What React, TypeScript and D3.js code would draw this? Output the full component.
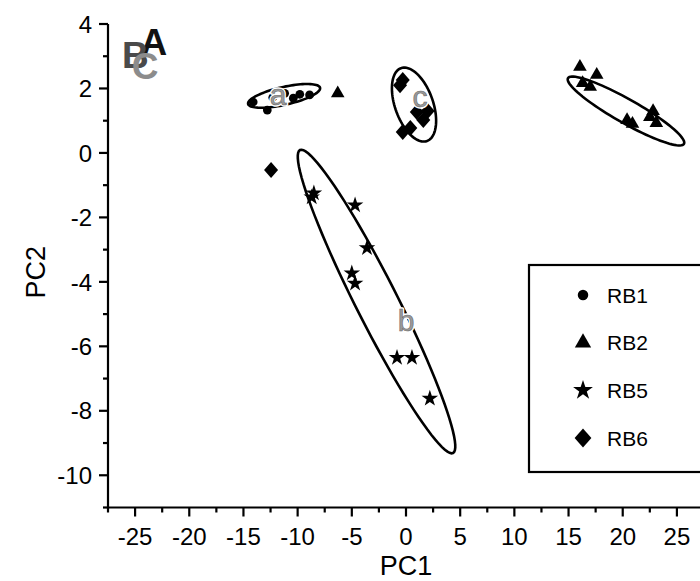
import React from "react";
import * as d3 from "d3";

const W = 700;
const H = 581;

// axis domains and ticks
const xDomain = [-27.5, 27.5];
const yDomain = [-11, 4];
const xTicks = [-25, -20, -15, -10, -5, 0, 5, 10, 15, 20, 25];
const xMinorTicks = [-27.5, -22.5, -17.5, -12.5, -7.5, -2.5, 2.5, 7.5, 12.5, 17.5, 22.5, 27.5];
const yTicks = [-10, -8, -6, -4, -2, 0, 2, 4];
const yMinorTicks = [-11, -9, -7, -5, -3, -1, 1, 3];

// series (PC1, PC2)
const rb1: [number, number][] = [
  [-14.1, 1.58], [-12.8, 1.33], [-12.3, 1.72], [-11.2, 1.85], [-10.4, 1.7], [-9.8, 1.82], [-8.9, 1.8],
];
const rb2: [number, number][] = [
  [-6.3, 1.85], [16.05, 2.67], [17.6, 2.42], [16.3, 2.17], [17.0, 2.05],
  [20.4, 1.02], [20.9, 0.9], [22.5, 1.11], [22.8, 1.3], [23.1, 0.93],
];
const rb5: [number, number][] = [
  [-8.7, -1.37], [-8.5, -1.25], [-4.7, -1.62], [-3.6, -2.95], [-5.0, -3.73],
  [-4.7, -4.05], [-0.83, -6.35], [0.55, -6.35], [2.2, -7.62],
];
const rb6: [number, number][] = [
  [-12.45, -0.53], [-0.3, 2.26], [-0.55, 2.1], [1.0, 1.27], [2.0, 1.3], [1.6, 1.02], [-0.3, 0.65], [0.4, 0.77],
];

// group ellipses: center, semi-axis vectors (data units)
const ellipseNames = ["a", "b", "c", "d"];
const ellipseCenters: [number, number][] = [[-11.25, 1.77], [-2.72, -4.61], [0.74, 1.5], [20.3, 1.3]];
const ellipseAxis1: [number, number][] = [[3.32, 0.25], [7.06, -4.7], [1.2, -1.13], [5.35, -1.02]];
const ellipseAxis2: [number, number][] = [[0.18, -0.27], [-1.73, -0.29], [-1.65, -0.2], [-0.55, -0.32]];

// group letters
const groupLabels = ["a", "b", "c"];
const groupLabelPos: [number, number][] = [[-11.8, 1.48], [0.0, -5.52], [1.3, 1.42]];

// panel letters
const panelLetters = ["A", "B", "C"];
const panelColors = ["#111111", "#4a4a4a", "#8c8c8c"];
const panelLetterPos: [number, number][] = [[-24.5, 3.05], [-26.2, 2.65], [-25.3, 2.28]];

const legendNames = ["RB1", "RB2", "RB5", "RB6"];

const FONT = "'Liberation Sans', Arial, Helvetica, sans-serif";

type Shape = "circle" | "triangle" | "star" | "diamond";
const shapes: Shape[] = ["circle", "triangle", "star", "diamond"];

function markerPath(shape: Shape, scale: number): string {
  if (shape === "diamond") {
    const hw = 7 * scale, hh = 8 * scale;
    return `M0,${-hh}L${hw},0L0,${hh}L${-hw},0Z`;
  }
  const t = shape === "circle" ? d3.symbolCircle : shape === "triangle" ? d3.symbolTriangle : d3.symbolStar;
  const size = shape === "circle" ? 60 : shape === "triangle" ? 80 : 85;
  return d3.symbol().type(t).size(size * scale * scale)() as string;
}

export default function App() {
  const x = d3.scaleLinear().domain(xDomain).range([108, 704]);
  const y = d3.scaleLinear().domain(yDomain).range([507.5, 24]);
  const series = [rb1, rb2, rb5, rb6];

  const ellipsePath = (i: number) => {
    const [cx, cy] = ellipseCenters[i];
    const [ax, ay] = ellipseAxis1[i];
    const [bx, by] = ellipseAxis2[i];
    const pts: [number, number][] = d3.range(0, 361, 4).map((deg) => {
      const t = (deg * Math.PI) / 180;
      return [x(cx + ax * Math.cos(t) + bx * Math.sin(t)), y(cy + ay * Math.cos(t) + by * Math.sin(t))];
    });
    return d3.line().curve(d3.curveLinearClosed)(pts) as string;
  };

  const legendY = d3.scalePoint<string>().domain(legendNames).range([295, 438]);
  const x0 = x(xDomain[0]);
  const yBottom = y(yDomain[0]);

  return (
    <svg width={W} height={H} style={{ display: "block", position: "absolute", left: 0, top: 0, background: "#fff" }}>
      <rect width={W} height={H} fill="#fff" />
      {/* axes */}
      <g stroke="#000" strokeWidth={2.2} fill="none">
        <line x1={x0} x2={x0} y1={y(yDomain[1])} y2={yBottom + 1} />
        <line x1={x0 - 1} x2={W + 10} y1={yBottom} y2={yBottom} />
        {xTicks.map((t) => (
          <line key={"xt" + t} x1={x(t)} x2={x(t)} y1={yBottom} y2={yBottom + 9} />
        ))}
        {xMinorTicks.map((t) => (
          <line key={"xm" + t} x1={x(t)} x2={x(t)} y1={yBottom} y2={yBottom + 5} />
        ))}
        {yTicks.map((t) => (
          <line key={"yt" + t} x1={x0 - 9} x2={x0} y1={y(t)} y2={y(t)} />
        ))}
        {yMinorTicks.map((t) => (
          <line key={"ym" + t} x1={x0 - 5} x2={x0} y1={y(t)} y2={y(t)} />
        ))}
      </g>
      <g fontFamily={FONT} fontSize={24} fill="#000">
        {xTicks.map((t) => (
          <text key={"xl" + t} x={x(t)} y={545} textAnchor="middle">
            {t}
          </text>
        ))}
        {yTicks.map((t) => (
          <text key={"yl" + t} x={x0 - 16} y={y(t)} dy="0.36em" textAnchor="end">
            {t}
          </text>
        ))}
      </g>
      <text x={x(0)} y={575} textAnchor="middle" fontFamily={FONT} fontSize={27}>
        PC1
      </text>
      <text transform={`translate(45,${y(-3.7)}) rotate(-90)`} textAnchor="middle" fontFamily={FONT} fontSize={27}>
        PC2
      </text>

      {/* ellipses */}
      <g fill="none" stroke="#000" strokeWidth={2.6}>
        {ellipseNames.map((n, i) => (
          <path key={n} d={ellipsePath(i)} />
        ))}
      </g>

      {/* points */}
      {series.map((s, si) => (
        <g key={"s" + si} fill="#000">
          {s.map(([px, py], i) => (
            <path key={i} d={markerPath(shapes[si], 1)} transform={`translate(${x(px)},${y(py)})`} />
          ))}
        </g>
      ))}

      {/* group labels: white halo then grey letter */}
      <g fontFamily={FONT} fontSize={30} textAnchor="middle">
        {groupLabels.map((l, i) => (
          <text key={"h" + l} x={x(groupLabelPos[i][0])} y={y(groupLabelPos[i][1])} fill="none" stroke="#fff" strokeWidth={3.5} strokeLinejoin="round">
            {l}
          </text>
        ))}
        {groupLabels.map((l, i) => (
          <text key={l} x={x(groupLabelPos[i][0])} y={y(groupLabelPos[i][1])} fill="#9a9a9a" stroke="#6a6a6a" strokeWidth={0.6}>
            {l}
          </text>
        ))}
      </g>

      {/* panel letters */}
      <g fontFamily={FONT} fontSize={37} fontWeight="bold">
        {panelLetters.map((l, i) => (
          <text key={l} x={x(panelLetterPos[i][0])} y={y(panelLetterPos[i][1])} fill={panelColors[i]}>
            {l}
          </text>
        ))}
      </g>

      {/* legend */}
      <rect x={529} y={265} width={220} height={207} fill="#fff" stroke="#000" strokeWidth={2.2} />
      {legendNames.map((n, i) => (
        <g key={n} transform={`translate(0,${legendY(n)})`}>
          <path d={markerPath(shapes[i], 1.2)} transform="translate(583,0)" fill="#000" />
          <text x={607} dy="0.36em" fontFamily={FONT} fontSize={21}>
            {n}
          </text>
        </g>
      ))}
    </svg>
  );
}
